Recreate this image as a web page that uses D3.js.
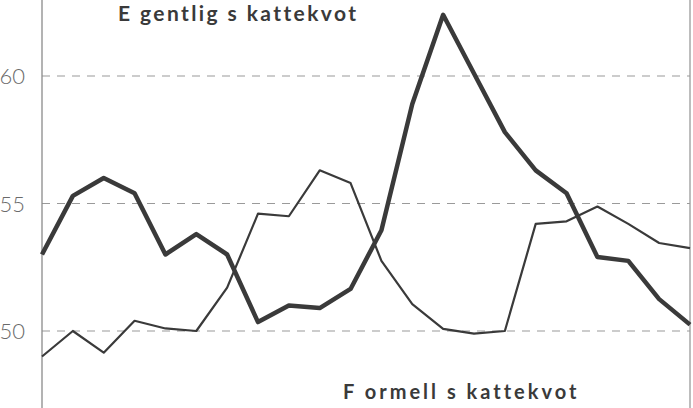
<!DOCTYPE html>
<html><head><meta charset="utf-8">
<script src="https://cdn.jsdelivr.net/npm/d3@7"></script>
<style>body{margin:0;background:#fff}svg{display:block}</style>
</head><body>
<svg id="c" width="693" height="408"></svg>
<script>
const periods = d3.range(22);
const egentlig = [53.0,55.3,56.0,55.4,53.0,53.8,53.0,50.35,51.0,50.9,51.65,53.95,58.9,62.4,60.1,57.8,56.3,55.4,52.9,52.75,51.25,50.25];
const formell  = [49.0,50.0,49.15,50.4,50.1,50.0,51.7,54.6,54.5,56.3,55.8,52.75,51.05,50.08,49.9,50.0,54.2,54.3,54.88,54.2,53.45,53.25];
const yTicks = [50,55,60];
const labels = {egentlig:"E gentlig s kattekvot", formell:"F ormell s kattekvot"};

const svg = d3.select("#c");
const x = d3.scaleLinear().domain([0,21]).range([42,690]);
const y = d3.scaleLinear().domain([50,60]).range([331,76]);

// grid
svg.selectAll(".grid").data(yTicks).join("line")
  .attr("x1",42).attr("x2",690).attr("y1",d=>y(d)).attr("y2",d=>y(d))
  .attr("stroke","#9a9a9a").attr("stroke-width",1.2).attr("stroke-dasharray","8,7");

// axis lines
svg.append("line").attr("x1",42).attr("x2",42).attr("y1",0).attr("y2",408)
  .attr("stroke","#8a8a8a").attr("stroke-width",1.3);
svg.append("line").attr("x1",690).attr("x2",690).attr("y1",0).attr("y2",408)
  .attr("stroke","#9a9a9a").attr("stroke-width",1.3);

// tick labels
svg.selectAll(".tl").data(yTicks).join("text")
  .attr("x",25).attr("y",d=>y(d)+8).attr("text-anchor","end")
  .attr("font-family","Lato, 'DejaVu Sans', sans-serif").attr("font-weight",300)
  .attr("font-size",22).attr("fill","#6a6a6a").text(d=>d);

const line = d3.line().x((d,i)=>x(periods[i])).y(d=>y(d));
svg.append("path").attr("d",line(formell)).attr("fill","none")
  .attr("stroke","#3a3a3a").attr("stroke-width",2.2).attr("stroke-linejoin","round");
svg.append("path").attr("d",line(egentlig)).attr("fill","none")
  .attr("stroke","#3a3a3a").attr("stroke-width",4.5).attr("stroke-linejoin","round");

svg.append("text").attr("x",118).attr("y",21)
  .attr("font-family","Lato, 'DejaVu Sans', sans-serif").attr("font-weight",700)
  .attr("font-size",21).attr("letter-spacing",2.4).attr("fill","#3a3a3a")
  .text(labels.egentlig);
svg.append("text").attr("x",343).attr("y",399)
  .attr("font-family","Lato, 'DejaVu Sans', sans-serif").attr("font-weight",700)
  .attr("font-size",20).attr("letter-spacing",3.0).attr("fill","#3a3a3a")
  .text(labels.formell);
</script>
</body></html>
